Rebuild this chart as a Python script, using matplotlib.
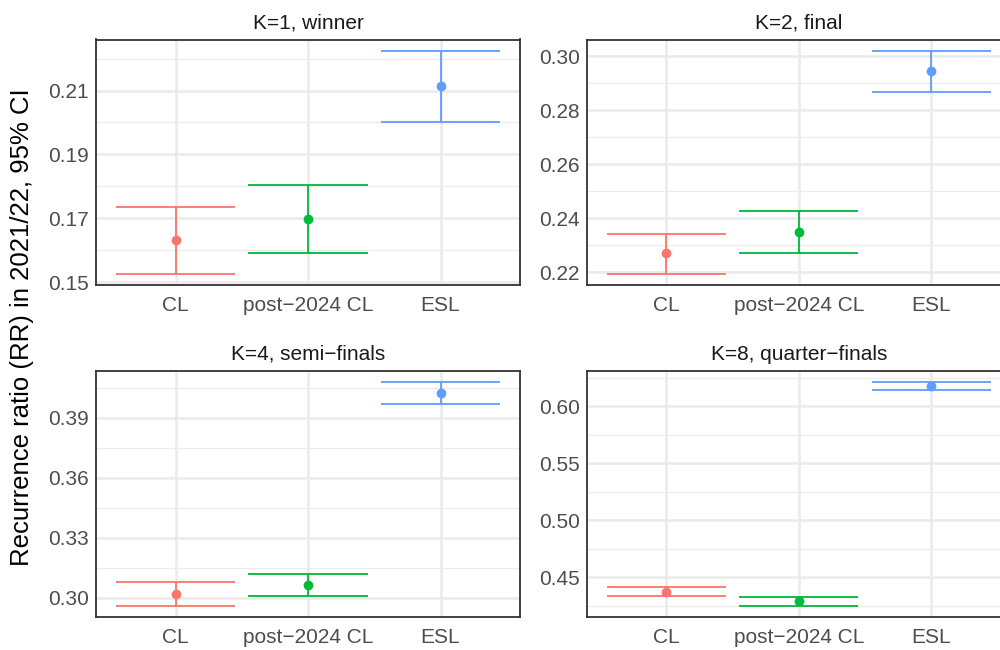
import numpy as np
import matplotlib.pyplot as plt
from matplotlib.ticker import FixedLocator

plt.rcParams['font.family'] = ['Liberation Sans', 'DejaVu Sans']

groups = ['CL', 'post\u22122024 CL', 'ESL']
colors = ['#F8766D', '#00BA38', '#619CFF']
titles = ['K=1, winner', 'K=2, final', 'K=4, semi\u2212finals', 'K=8, quarter\u2212finals']

# point estimate, lower and upper 95% CI per panel
rr_k1 = [0.1631, 0.1697, 0.2113]
lo_k1 = [0.1526, 0.1591, 0.2000]
hi_k1 = [0.1736, 0.1805, 0.2225]

rr_k2 = [0.2272, 0.2350, 0.2944]
lo_k2 = [0.2195, 0.2272, 0.2868]
hi_k2 = [0.2341, 0.2426, 0.3021]

rr_k4 = [0.3018, 0.3063, 0.4021]
lo_k4 = [0.2960, 0.3008, 0.3968]
hi_k4 = [0.3076, 0.3118, 0.4077]

rr_k8 = [0.4372, 0.4288, 0.6181]
lo_k8 = [0.4334, 0.4250, 0.6146]
hi_k8 = [0.4413, 0.4329, 0.6212]

yticks = [[0.15, 0.17, 0.19, 0.21],
          [0.22, 0.24, 0.26, 0.28, 0.30],
          [0.30, 0.33, 0.36, 0.39],
          [0.45, 0.50, 0.55, 0.60]]

panels = [(rr_k1, lo_k1, hi_k1), (rr_k2, lo_k2, hi_k2),
          (rr_k4, lo_k4, hi_k4), (rr_k8, lo_k8, hi_k8)]

W, H = 1000, 650
fig = plt.figure(figsize=(10, 6.5), dpi=100)

# panel boxes in pixels: left, top, width, height
boxes = [(96, 39.5, 424, 245.5), (586.7, 39.5, 424, 245.5),
         (96, 371, 424, 245.7), (586.7, 371, 424, 245.7)]

x = np.arange(1, 4)
for i, (rr, lo, hi) in enumerate(panels):
    l, t, w, h = boxes[i]
    ax = fig.add_axes([l / W, 1 - (t + h) / H, w / W, h / H])
    ax.set_xlim(0.4, 3.6)
    dmin, dmax = min(lo), max(hi)
    pad = 0.05 * (dmax - dmin)
    ax.set_ylim(dmin - pad, dmax + pad)

    tk = yticks[i]
    step = tk[1] - tk[0]
    minor = [v + step / 2 for v in [tk[0] - step] + tk]
    ax.yaxis.set_major_locator(FixedLocator(tk))
    ax.yaxis.set_minor_locator(FixedLocator(minor))
    ax.set_yticklabels(['%.2f' % v for v in tk])
    ax.set_xticks(x)
    ax.set_xticklabels(groups)

    ax.grid(True, which='major', color='#EBEBEB', linewidth=1.8)
    ax.grid(True, which='minor', axis='y', color='#EBEBEB', linewidth=0.9)
    ax.set_axisbelow(True)

    for j in range(3):
        ax.vlines(x[j], lo[j], hi[j], color=colors[j], linewidth=1.3)
        ax.hlines([lo[j], hi[j]], x[j] - 0.45, x[j] + 0.45, color=colors[j], linewidth=1.3)
        ax.plot(x[j], rr[j], 'o', color=colors[j], markersize=6)

    for s in ax.spines.values():
        s.set_color('#333333')
        s.set_linewidth(1.3)
    ax.tick_params(which='both', length=0, labelsize=15, labelcolor='#4D4D4D', pad=5)
    ax.tick_params(axis='x', pad=8)
    ax.set_title(titles[i], fontsize=15, color='#1A1A1A', pad=8)

fig.text(0.0225, 0.496, 'Recurrence ratio (RR) in 2021/22, 95% CI', rotation=90,
         va='center', ha='center', fontsize=18.5, color='black')

fig.savefig('out.png', dpi=100)
